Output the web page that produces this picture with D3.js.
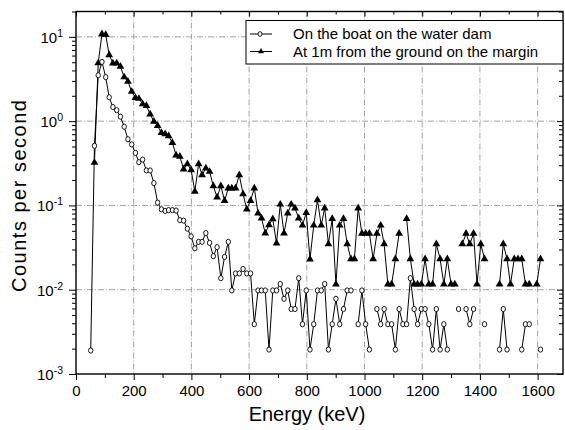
<!DOCTYPE html>
<html lang="en">
<head>
<meta charset="UTF-8">
<script src="https://d3js.org/d3.v7.min.js"></script>
<title>Spectra</title>
<style>
  body { margin: 0; background: #fff; }
  svg { display: block; font-family: "Liberation Sans", Arial, sans-serif; }
</style>
</head>
<body>
<div id="chart"></div>
<script>
// channel energies (keV)
const energy = [51, 64, 77, 90, 103, 115, 128, 141, 154, 167, 180, 193, 206, 218, 231, 244, 257, 270, 283, 296,
  309, 321, 334, 347, 360, 373, 386, 399, 412, 425, 437, 450, 463, 476, 489, 502, 515, 528, 540, 553,
  566, 579, 592, 605, 618, 631, 643, 656, 669, 682, 695, 708, 721, 734, 746, 759, 772, 785, 798, 811,
  824, 837, 850, 862, 875, 888, 901, 914, 927, 940, 953, 965, 978, 991, 1004, 1017, 1030, 1043, 1056, 1068,
  1081, 1094, 1107, 1120, 1133, 1146, 1159, 1172, 1184, 1197, 1210, 1223, 1236, 1249, 1262, 1275, 1287, 1300, 1313, 1326,
  1339, 1352, 1365, 1378, 1390, 1403, 1416, 1429, 1442, 1455, 1468, 1481, 1494, 1506, 1519, 1532, 1545, 1558, 1571, 1584,
  1597, 1610];

// "On the boat on the water dam" (null = no counts)
const boatCounts = [0.0019, 0.51, 3.5, 5.05, 3.33, 1.92, 1.47, 1.35, 1.13, 0.86, 0.61, 0.53, 0.42, 0.326, 0.35, 0.26, 0.26, 0.184, 0.108, 0.090,
  0.086, 0.088, 0.088, 0.087, 0.067, 0.066, 0.053, 0.043, 0.031, 0.037, 0.037, 0.047, 0.036, 0.025, 0.032, 0.0137, 0.0245, 0.037, 0.0098, 0.0156,
  0.0156, 0.0176, 0.0156, 0.0156, 0.0039, 0.0098, 0.0098, 0.0098, 0.00195, 0.0098, 0.0098, 0.0117, 0.0078, 0.0098, 0.0059, 0.0059, 0.0137, 0.0039, 0.0098, 0.00195,
  0.0039, 0.0098, 0.0098, 0.0117, 0.00195, 0.0039, 0.0078, 0.0039, 0.0059, 0.0098, 0.0098, null, 0.0039, 0.0098, 0.0039, 0.00195, null, 0.0059, 0.0039, 0.0059,
  0.0039, 0.0039, 0.00195, 0.0059, 0.0039, 0.0039, 0.0137, 0.0059, 0.0039, 0.0059, 0.0059, 0.0039, 0.00195, 0.0059, 0.00195, 0.0039, 0.00195, null, null, 0.0059,
  null, 0.0059, 0.0039, 0.0059, null, null, 0.0039, null, null, null, 0.00195, 0.0059, 0.00195, null, null, null, 0.00195, 0.0039, 0.0039, null,
  null, 0.00195];

// "At 1m from the ground on the margin"
const groundCounts = [null, 0.322, 4.88, 10.8, 10.6, 6.1, 4.87, 4.87, 4.44, 3.33, 2.95, 2.24, 1.9, 1.85, 1.6, 1.52, 1.21, 0.99, 0.88, 0.73,
  0.706, 0.668, 0.556, 0.394, 0.38, 0.269, 0.311, 0.264, 0.146, 0.311, 0.230, 0.277, 0.252, 0.170, 0.125, 0.170, 0.114, 0.160, 0.160, 0.160,
  0.230, 0.137, 0.090, 0.114, 0.160, 0.081, 0.0705, 0.0468, 0.0587, 0.069, 0.0356, 0.103, 0.0468, 0.081, 0.103, 0.0926, 0.0705, 0.058, 0.082, 0.023,
  0.058, 0.116, 0.058, 0.0928, 0.0349, 0.0696, 0.0116, 0.058, 0.0696, 0.0348, 0.0232, 0.0232, 0.0928, 0.0464, 0.0464, 0.0464, 0.0232, 0.0464, 0.058, 0.0348,
  0.0116, 0.0116, 0.0232, 0.0464, null, 0.0696, 0.0232, 0.0116, 0.0116, 0.0116, 0.0232, 0.0116, 0.0116, 0.0348, 0.0232, 0.0116, 0.0232, 0.0116, 0.0116, null,
  0.0348, 0.0464, 0.0348, 0.0464, 0.0116, 0.0348, 0.0232, null, null, null, 0.0116, 0.0348, 0.0232, 0.0116, 0.0232, 0.0232, 0.0232, 0.0116, 0.0116, null,
  0.0116, 0.0232];

const seriesNames = ["On the boat on the water dam", "At 1m from the ground on the margin"];
const xTicks = [0, 200, 400, 600, 800, 1000, 1200, 1400, 1600];
const yTicks = [1e-3, 1e-2, 1e-1, 1, 10];
const yExponents = ["-3", "-2", "-1", "0", "1"];

/*------------------- layout --------------------*/
const width = 565, height = 430;
const plot = { left: 76, right: 563, top: 11.5, bottom: 374 };

const svg = d3.select("#chart").append("svg")
  .attr("width", width)
  .attr("height", height);

const x = d3.scaleLinear().domain([0, 1688]).range([plot.left, plot.right]);
const y = d3.scaleLog().domain([1e-3, 20]).range([plot.bottom, plot.top]);

// grid lines
const grid = svg.append("g")
  .attr("stroke", "#999")
  .attr("stroke-width", 0.9)
  .attr("stroke-dasharray", "6,2,1,2");
grid.selectAll("line.gx")
  .data(xTicks.slice(1))
  .enter().append("line")
  .attr("x1", d => x(d)).attr("x2", d => x(d))
  .attr("y1", plot.top).attr("y2", plot.bottom);
grid.selectAll("line.gy")
  .data(yTicks.slice(1))
  .enter().append("line")
  .attr("x1", plot.left).attr("x2", plot.right)
  .attr("y1", d => y(d)).attr("y2", d => y(d));

// minor tick positions
const xMinor = d3.range(100, 1688, 200);
const yMinor = [];
yTicks.forEach(t => {
  for (let m = 2; m <= 9; m++) {
    if (t * m <= 20) yMinor.push(t * m);
  }
});

// axes
const bottomAxis = svg.append("g").attr("transform", `translate(0,${plot.bottom})`);
bottomAxis.call(d3.axisBottom(x).tickValues(xTicks).tickSize(6).tickPadding(5).tickFormat(d3.format("d")));
svg.append("g").attr("transform", `translate(0,${plot.bottom})`)
  .call(d3.axisBottom(x).tickValues(xMinor).tickSize(4).tickFormat(""));

svg.append("g").attr("transform", `translate(0,${plot.top})`)
  .call(d3.axisBottom(x).tickValues(xTicks).tickSize(5).tickFormat(""));
svg.append("g").attr("transform", `translate(0,${plot.top})`)
  .call(d3.axisBottom(x).tickValues(xMinor).tickSize(3).tickFormat(""));

svg.append("g").attr("transform", `translate(${plot.left},0)`)
  .call(d3.axisLeft(y).tickValues(yTicks).tickSize(7).tickFormat(""));
svg.append("g").attr("transform", `translate(${plot.left},0)`)
  .call(d3.axisLeft(y).tickValues(yMinor).tickSize(4).tickFormat(""));

svg.append("g").attr("transform", `translate(${plot.right},0)`)
  .call(d3.axisLeft(y).tickValues(yTicks).tickSize(6).tickFormat(""));
svg.append("g").attr("transform", `translate(${plot.right},0)`)
  .call(d3.axisLeft(y).tickValues(yMinor).tickSize(4).tickFormat(""));

svg.selectAll(".domain").remove();
svg.selectAll(".tick line").attr("stroke", "#000").attr("stroke-width", 1);
bottomAxis.selectAll(".tick text")
  .attr("font-size", 15)
  .attr("fill", "#000")
  .attr("font-family", "Liberation Sans, Arial, sans-serif");

// y tick labels as 10 with exponent
const yLabels = svg.append("g").attr("font-size", 15).attr("fill", "#000");
yTicks.forEach((t, i) => {
  const txt = yLabels.append("text")
    .attr("x", 63)
    .attr("y", y(t) + 6)
    .attr("text-anchor", "end");
  txt.append("tspan").text("10");
  txt.append("tspan")
    .attr("font-size", 10.5)
    .attr("dy", -6)
    .text(yExponents[i]);
});

// frame
svg.append("rect")
  .attr("x", plot.left).attr("y", plot.top)
  .attr("width", plot.right - plot.left)
  .attr("height", plot.bottom - plot.top)
  .attr("fill", "none")
  .attr("stroke", "#000")
  .attr("stroke-width", 1.4);

// data lines
function toPoints(vals) {
  return energy.map((e, i) => ({ e: e, v: vals[i] }));
}
const boatPts = toPoints(boatCounts);
const groundPts = toPoints(groundCounts);

const line = d3.line()
  .defined(d => d.v != null)
  .x(d => x(d.e))
  .y(d => y(d.v));

svg.append("path").datum(groundPts)
  .attr("d", line)
  .attr("fill", "none").attr("stroke", "#000").attr("stroke-width", 1);
svg.append("path").datum(boatPts)
  .attr("d", line)
  .attr("fill", "none").attr("stroke", "#000").attr("stroke-width", 1);

const triangle = d3.symbol().type(d3.symbolTriangle).size(26);

svg.append("g").selectAll("path")
  .data(groundPts.filter(d => d.v != null))
  .enter().append("path")
  .attr("d", triangle)
  .attr("transform", d => `translate(${x(d.e)},${y(d.v)})`)
  .attr("fill", "#000");

svg.append("g").selectAll("ellipse")
  .data(boatPts.filter(d => d.v != null))
  .enter().append("ellipse")
  .attr("cx", d => x(d.e))
  .attr("cy", d => y(d.v))
  .attr("rx", 2.2).attr("ry", 2.6)
  .attr("fill", "#fff")
  .attr("stroke", "#000")
  .attr("stroke-width", 0.9);

// legend
const legend = svg.append("g");
legend.append("rect")
  .attr("x", 246).attr("y", 20.5)
  .attr("width", plot.right - 246).attr("height", 43.5)
  .attr("fill", "#fff").attr("stroke", "#000").attr("stroke-width", 1);
[34, 51.5].forEach((ly, i) => {
  legend.append("line")
    .attr("x1", 250).attr("x2", 272)
    .attr("y1", ly).attr("y2", ly)
    .attr("stroke", "#000").attr("stroke-width", 1);
  if (i === 0) {
    legend.append("ellipse")
      .attr("cx", 260).attr("cy", ly).attr("rx", 2).attr("ry", 2.3)
      .attr("fill", "#fff").attr("stroke", "#000").attr("stroke-width", 0.9);
  } else {
    legend.append("path")
      .attr("d", d3.symbol().type(d3.symbolTriangle).size(16))
      .attr("transform", `translate(261,${ly})`)
      .attr("fill", "#000");
  }
  legend.append("text")
    .attr("x", 293).attr("y", ly + 5)
    .attr("font-size", 15)
    .attr("fill", "#000")
    .text(seriesNames[i]);
});

// axis titles
svg.append("text")
  .attr("x", 307).attr("y", 421)
  .attr("text-anchor", "middle")
  .attr("font-size", 20)
  .text("Energy (keV)");

svg.append("text")
  .attr("transform", "translate(26,196) rotate(-90)")
  .attr("text-anchor", "middle")
  .attr("font-size", 20)
  .attr("textLength", 192)
  .attr("lengthAdjust", "spacing")
  .text("Counts per second");
</script>
</body>
</html>
